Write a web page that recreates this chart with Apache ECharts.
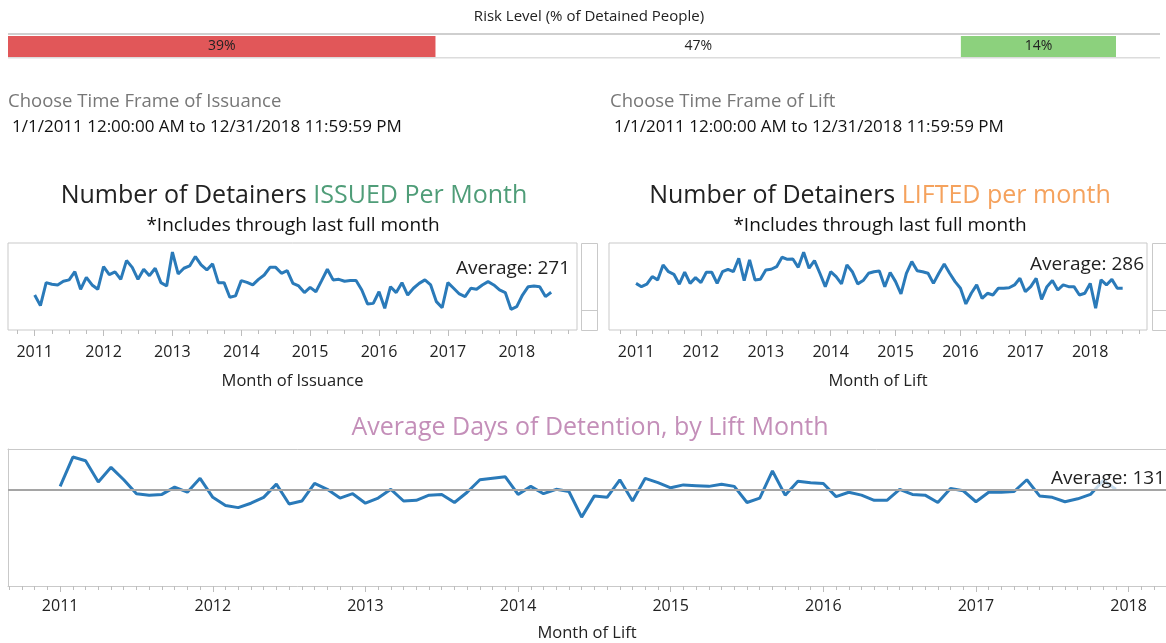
<!DOCTYPE html>
<html><head><meta charset="utf-8">
<script src="https://cdn.jsdelivr.net/npm/echarts@6/dist/echarts.min.js"></script>
<style>html,body{margin:0;padding:0;background:#fff}#c{width:1166px;height:643px}</style>
</head><body><div id="c"></div>
<script>
// ---------- data ----------
const riskShares = [38.6, 47.4, 14.0];
const yearLabels = ['2011','2012','2013','2014','2015','2016','2017','2018'];
// monthly values, index 0 = Jan 2011
const issuedPerMonth = [
 201,140,272,263,259,280,288,335,234,303,
 259,234,364,318,334,291,399,360,291,349,
 312,355,272,253,448,322,355,368,422,374,
 345,380,272,272,188,196,284,274,259,291,
 316,360,360,326,341,268,253,215,245,220,
 284,349,288,291,280,284,284,230,150,153,
 220,125,249,215,272,201,240,268,288,259,
 163,128,272,240,207,192,240,234,259,278,
 259,230,215,119,134,201,249,253,249,192,217];
const liftedPerMonth = [
 268,249,263,307,288,374,335,320,263,332,
 268,301,272,332,332,268,335,349,335,412,
 284,403,288,291,345,349,364,418,406,408,
 360,447,355,399,326,249,335,307,265,374,
 335,265,284,326,335,339,249,330,278,207,
 326,393,341,335,326,268,326,380,326,278,
 240,150,211,259,182,211,201,240,240,243,
 259,297,220,249,297,176,249,284,230,259,
 249,249,201,211,268,125,288,259,291,240,240];
const detentionDays = [
 136,176,171,142,162,145,126,124,125,135,
 128,147,121,110,107,113,121,139,112,116,
 140,132,120,126,113,120,132,116,117,124,
 125,114,128,145,147,149,125,136,126,132,
 129,94,123,121,145,116,147,141,134,138,
 137,136,139,136,114,120,157,124,143,141,
 140,122,128,124,117,117,132,125,124,114,
 133,130,115,128,128,129,145,123,121,115,
 119,125,144,132];
const issuedAverage = 271;
const liftedAverage = 286;
const detentionAverage = 131;

// ---------- styling ----------
const F = "'Open Sans', 'Noto Sans', sans-serif";
const LINE = '#2a7ab9';
const BORDER = '#c9c9c9';
const yearPos = yearLabels.map((_, i) => i * 12);
const quarterTicks = []; for (let m = -3; m <= 93; m += 3) quarterTicks.push(m);
const monthTicks = []; for (let m = -4; m <= 86; m++) monthTicks.push(m);

function minorAxis(grid, min, max, ticks, len) {
  return {gridIndex: grid, type: 'value', position: 'bottom', min, max,
    axisLine: {show: false, onZero: false}, splitLine: {show: false},
    axisTick: {customValues: ticks, length: len, inside: false, lineStyle: {color: '#bdbdbd'}}, axisLabel: {show: false}};
}
function majorAxis(grid, min, max, name, gap, margin, showLine) {
  return {gridIndex: grid, type: 'value', position: 'bottom', min, max, splitLine: {show: false},
    axisLine: {show: !!showLine, onZero: false, lineStyle: {color: BORDER, width: 1}},
    axisTick: {customValues: yearPos, length: 6, inside: false, lineStyle: {color: '#bdbdbd'}},
    axisLabel: {customValues: yearPos, formatter: v => yearLabels[Math.round(v / 12)],
      fontSize: 16, color: '#222', fontFamily: F, margin},
    name, nameLocation: 'middle', nameGap: gap,
    nameTextStyle: {fontSize: 16.5, color: '#222', fontFamily: F}};
}
const pts = arr => arr.map((v, i) => [i, v]);
const riskColors = ['#e15759', '#ffffff', '#8cd17d'];
const X3MIN = -4.1, X3MAX = 86.94;

const option = {
  animation: false,
  grid: [
    {left: 8, top: 36, width: 1108, height: 21},
    {left: 8, top: 243, width: 569, height: 87, show: true, borderColor: BORDER, borderWidth: 1},
    {left: 609, top: 243, width: 538, height: 87, show: true, borderColor: BORDER, borderWidth: 1},
    {left: 8, top: 449, right: 0, height: 138}
  ],
  xAxis: [
    {gridIndex: 0, type: 'value', min: 0, max: 100, show: false},
    majorAxis(1, -4.65, 94.5, 'Month of Issuance', 43, 14),
    minorAxis(1, -4.65, 94.5, quarterTicks, 4),
    majorAxis(2, -5, 94.5, 'Month of Lift', 43, 14),
    minorAxis(2, -5, 94.5, quarterTicks, 4),
    majorAxis(3, X3MIN, X3MAX, 'Month of Lift', 39, 12, true),
    minorAxis(3, X3MIN, X3MAX, monthTicks, 4),
    {gridIndex: 3, type: 'value', min: X3MIN, max: X3MAX, position: 'top',
      axisLine: {show: true, onZero: false, lineStyle: {color: BORDER, width: 1}},
      axisTick: {show: false}, axisLabel: {show: false}, splitLine: {show: false}}
  ],
  yAxis: [
    {gridIndex: 0, type: 'category', data: ['risk'], show: false},
    {gridIndex: 1, type: 'value', min: 0, max: 500, show: false},
    {gridIndex: 2, type: 'value', min: 0, max: 500, show: false},
    {gridIndex: 3, type: 'value', min: 0, max: 187, position: 'left',
      axisLine: {show: true, onZero: false, lineStyle: {color: BORDER, width: 1}},
      axisTick: {show: false}, axisLabel: {show: false}, splitLine: {show: false}}
  ],
  series: [
    ...riskShares.map((v, i) => ({
      type: 'bar', stack: 'risk', xAxisIndex: 0, yAxisIndex: 0, barWidth: '100%',
      data: [v], itemStyle: {color: riskColors[i]},
      label: {show: true, position: 'inside', formatter: p => Math.round(p.value) + '%', color: '#222', fontSize: 14, fontFamily: F}
    })),
    {type: 'line', xAxisIndex: 1, yAxisIndex: 1, data: pts(issuedPerMonth), showSymbol: false, symbol: 'none',
      lineStyle: {color: LINE, width: 3}},
    {type: 'line', xAxisIndex: 3, yAxisIndex: 2, data: pts(liftedPerMonth), showSymbol: false, symbol: 'none',
      lineStyle: {color: LINE, width: 3}},
    {type: 'line', xAxisIndex: 5, yAxisIndex: 3, data: pts(detentionDays), showSymbol: false, symbol: 'none',
      lineStyle: {color: LINE, width: 3},
      markLine: {silent: true, symbol: 'none', data: [{yAxis: detentionAverage}],
        lineStyle: {color: '#a5a5a5', width: 2, type: 'solid'},
        label: {formatter: 'Average: ' + detentionAverage, position: 'insideEndTop', distance: 1,
          fontSize: 19, color: '#222', fontFamily: F, backgroundColor: 'rgba(255,255,255,0.75)',
          padding: [1, 0, 1, 6]}}}
  ],
  graphic: [
    {type: 'rect', shape: {x: 8, y: 33, width: 1152, height: 2}, style: {fill: '#cfcfcf'}, silent: true},
    {type: 'rect', shape: {x: 8, y: 57, width: 1152, height: 1.5}, style: {fill: '#dcdcdc'}, silent: true},
    {type: 'rect', shape: {x: 581.5, y: 243.5, width: 16, height: 87}, style: {fill: 'none', stroke: BORDER, lineWidth: 1}, silent: true},
    {type: 'line', shape: {x1: 581.5, y1: 310.5, x2: 597.5, y2: 310.5}, style: {stroke: BORDER, lineWidth: 1}, silent: true},
    {type: 'rect', shape: {x: 1152.5, y: 243.5, width: 20, height: 87}, style: {fill: 'none', stroke: BORDER, lineWidth: 1}, silent: true},
    {type: 'line', shape: {x1: 1152.5, y1: 310.5, x2: 1166, y2: 310.5}, style: {stroke: BORDER, lineWidth: 1}, silent: true},
    {type: 'text', x: 589, y: 17, style: {text: 'Risk Level (% of Detained People)', font: '15px ' + F, fill: '#222', align: 'center', verticalAlign: 'middle'}},
    {type: 'text', x: 8, y: 102, style: {text: 'Choose Time Frame of Issuance', font: '18.5px ' + F, fill: '#777', align: 'left', verticalAlign: 'middle'}},
    {type: 'text', x: 12, y: 127, style: {text: '1/1/2011 12:00:00 AM to 12/31/2018 11:59:59 PM', font: '17px ' + F, fill: '#111', align: 'left', verticalAlign: 'middle'}},
    {type: 'text', x: 610, y: 102, style: {text: 'Choose Time Frame of Lift', font: '18.5px ' + F, fill: '#777', align: 'left', verticalAlign: 'middle'}},
    {type: 'text', x: 614, y: 127, style: {text: '1/1/2011 12:00:00 AM to 12/31/2018 11:59:59 PM', font: '17px ' + F, fill: '#111', align: 'left', verticalAlign: 'middle'}},
    {type: 'text', x: 294, y: 196, style: {text: '{a|Number of Detainers }{b|ISSUED Per Month}', align: 'center', verticalAlign: 'middle',
      rich: {a: {font: '25px ' + F, fill: '#222'}, b: {font: '25px ' + F, fill: '#4f9d78'}}}},
    {type: 'text', x: 293, y: 226, style: {text: '*Includes through last full month', font: '19px ' + F, fill: '#111', align: 'center', verticalAlign: 'middle'}},
    {type: 'text', x: 880, y: 196, style: {text: '{a|Number of Detainers }{b|LIFTED per month}', align: 'center', verticalAlign: 'middle',
      rich: {a: {font: '25px ' + F, fill: '#222'}, b: {font: '25px ' + F, fill: '#f5a25d'}}}},
    {type: 'text', x: 880, y: 226, style: {text: '*Includes through last full month', font: '19px ' + F, fill: '#111', align: 'center', verticalAlign: 'middle'}},
    {type: 'text', x: 570, y: 269, style: {text: 'Average: ' + issuedAverage, font: '19px ' + F, fill: '#222', align: 'right', verticalAlign: 'middle'}},
    {type: 'text', x: 1144, y: 265, style: {text: 'Average: ' + liftedAverage, font: '19px ' + F, fill: '#222', align: 'right', verticalAlign: 'middle'}},
    {type: 'text', x: 590, y: 428, style: {text: 'Average Days of Detention, by Lift Month', font: '25px ' + F, fill: '#c48fb9', align: 'center', verticalAlign: 'middle'}}
  ]
};
const chart = echarts.init(document.getElementById('c'), null, {renderer: 'canvas'});
chart.setOption(option);
</script></body></html>
